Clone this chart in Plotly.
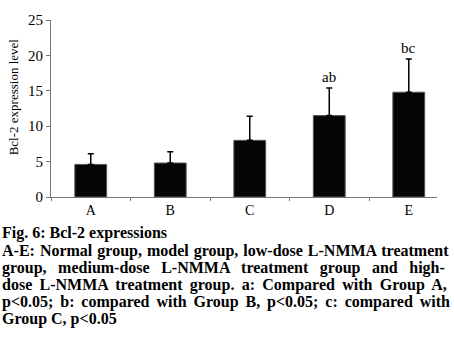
import plotly.graph_objects as go

groups = ["A", "B", "C", "D", "E"]
means = [4.6, 4.8, 8.0, 11.5, 14.8]
sds = [1.5, 1.6, 3.4, 3.9, 4.7]
marks = ["", "", "", "ab", "bc"]

caption_title = "Fig. 6: Bcl-2 expressions"
caption_lines = [
    "A-E: Normal group, model group, low-dose L-NMMA treatment",
    "group, medium-dose L-NMMA treatment group and high-",
    "dose L-NMMA treatment group. a: Compared with Group A,",
    "p&lt;0.05; b: compared with Group B, p&lt;0.05; c: compared with",
    "Group C, p&lt;0.05",
]
# extra space between words so the full caption lines fill the width
word_spacing = [1, 7.5, 3.3, 2.9, 0]

serif = "Liberation Serif, Times New Roman, serif"

fig = go.Figure()
fig.add_trace(go.Bar(
    x=groups, y=means,
    marker=dict(color="#050505", line=dict(color="#555555", width=1)),
    error_y=dict(type="data", array=sds, arrayminus=[0] * len(sds),
                 symmetric=False, color="black", thickness=1.5, width=3),
))

for g, m, s, t in zip(groups, means, sds, marks):
    if t:
        fig.add_annotation(x=g, y=m + s, text=t, showarrow=False,
                           yanchor="bottom", yshift=1,
                           font=dict(family=serif, size=15, color="black"))

fig.add_annotation(xref="paper", yref="paper", x=-0.095, y=0.565,
                   xanchor="center", yanchor="middle", showarrow=False,
                   textangle=-90, text="Bcl-2 expression level",
                   font=dict(family=serif, size=13, color="black"))

y0 = -0.206
fig.add_annotation(xref="paper", yref="paper", x=-0.132, y=y0,
                   xanchor="left", yanchor="middle", showarrow=False,
                   text="<b>" + caption_title + "</b>",
                   font=dict(family=serif, size=16, color="black"))
for i, line in enumerate(caption_lines):
    txt = "<b>" + line + "</b>"
    if word_spacing[i]:
        txt = '<span style="word-spacing:%.1fpx">' % word_spacing[i] + txt + "</span>"
    fig.add_annotation(xref="paper", yref="paper", x=-0.132,
                       y=y0 - (i + 1) * 17.4 / 179,
                       xanchor="left", yanchor="middle", showarrow=False,
                       text=txt,
                       font=dict(family=serif, size=16, color="black"))

fig.update_layout(
    width=454, height=340,
    margin=dict(l=51, r=17, t=18, b=143),
    paper_bgcolor="white", plot_bgcolor="white",
    bargap=0.6, showlegend=False,
    font=dict(family=serif, size=13, color="black"),
    xaxis=dict(type="category", range=[-0.5, 4.355], tickson="boundaries",
               ticks="outside", ticklen=3, tickcolor="#777777",
               showline=True, linecolor="#777777", linewidth=1,
               showgrid=False, tickfont=dict(family=serif, size=14)),
    yaxis=dict(range=[0, 25], tickvals=[0, 5, 10, 15, 20, 25],
               ticks="outside", ticklen=4, tickcolor="#777777",
               showline=True, linecolor="#777777", linewidth=1,
               showgrid=False, zeroline=False,
               tickfont=dict(family=serif, size=15)),
)

fig.write_html("out.html")
